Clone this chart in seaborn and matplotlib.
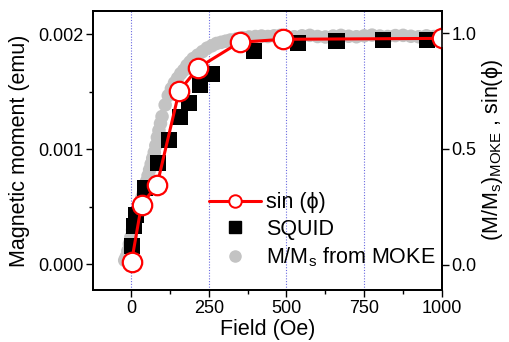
import matplotlib
matplotlib.use("Agg")
import matplotlib.pyplot as plt
from matplotlib.lines import Line2D
from matplotlib.ticker import MultipleLocator
import seaborn as sns
import pandas as pd

# ---- data ----
sin_field = [2, 34, 84, 155, 216, 349, 488, 1000]
sin_phi = [0.014, 0.26, 0.345, 0.75, 0.85, 0.96, 0.973, 0.977]

squid_field = [2, 11, 15, 45, 86, 122, 157, 187, 221, 259, 395, 538, 661, 811, 951]
squid_moment = [0.000157, 0.000333, 0.000426, 0.000658, 0.000875, 0.00108, 0.00128,
                0.00140, 0.00156, 0.00165, 0.00185, 0.00192, 0.00194, 0.00195, 0.00195]

moke_field = [-20, -15, -10, -5, 0, 5, 10, 15, 20, 25, 30, 35, 40, 45, 50, 55, 60, 65,
              70, 75, 80, 85, 90, 95, 100, 110, 120, 130, 140, 150, 160, 170, 180, 190,
              200, 215, 230, 245, 260, 275, 290, 305, 320, 340, 360, 380, 400, 420, 440,
              460, 480, 500, 525, 550, 575, 600, 625, 650, 675, 700, 725, 750, 775, 800,
              825, 850, 875, 900, 925, 950, 975, 1000]
moke_norm = [0.02, 0.035, 0.06, 0.09, 0.12, 0.15, 0.175, 0.20, 0.22, 0.245, 0.27, 0.29,
             0.31, 0.335, 0.36, 0.385, 0.41, 0.435, 0.46, 0.485, 0.515, 0.55, 0.58, 0.61,
             0.64, 0.69, 0.73, 0.76, 0.785, 0.805, 0.825, 0.84, 0.86, 0.875, 0.89, 0.905,
             0.92, 0.935, 0.945, 0.955, 0.96, 0.965, 0.97, 0.975, 0.98, 0.983, 0.985,
             0.987, 0.985, 0.988, 0.99, 0.986, 0.984, 0.988, 0.99, 0.985, 0.983, 0.987,
             0.99, 0.986, 0.984, 0.988, 0.991, 0.987, 0.985, 0.989, 0.99, 0.986, 0.984,
             0.988, 0.985, 0.983]

x_ticks = [0, 250, 500, 750, 1000]
left_ticks = [0.000, 0.001, 0.002]
left_ticklabels = ["0.000", "0.001", "0.002"]
right_ticks = [0.0, 0.5, 1.0]
right_ticklabels = ["0.0", "0.5", "1.0"]

df_sin = pd.DataFrame({"field": sin_field, "val": sin_phi})
df_sq = pd.DataFrame({"field": squid_field, "val": squid_moment})
df_mk = pd.DataFrame({"field": moke_field, "val": moke_norm})

sns.set_style("ticks")
plt.rcParams["font.family"] = ["Liberation Sans", "DejaVu Sans"]
plt.rcParams["mathtext.fontset"] = "custom"
plt.rcParams["mathtext.rm"] = "Liberation Sans"
plt.rcParams["mathtext.it"] = "Liberation Sans:italic"
plt.rcParams["mathtext.sf"] = "Liberation Sans"
for k in ("text.color", "axes.labelcolor", "xtick.color", "ytick.color",
          "axes.edgecolor"):
    plt.rcParams[k] = "black"

fig = plt.figure(figsize=(5.09, 3.42), dpi=100)
pos = [93 / 509, 52 / 342, 349 / 509, 279 / 342]

axg = fig.add_axes(pos)            # grey MOKE (right scale), bottom layer
ax = axg.twinx()                   # squid (left scale)
axr = axg.twinx()                  # sin(phi) (right scale), top layer
axg.set_zorder(0)
ax.set_zorder(1)
axr.set_zorder(2)
ax.patch.set_visible(False)
axr.patch.set_visible(False)

xlim = (-122, 1000)
rlim = (-0.108, 1.095)
llim = (-0.000226, 0.0022)

# grey
sns.scatterplot(data=df_mk, x="field", y="val", ax=axg, color="#c3c3c3", s=95,
                edgecolor="none", legend=False)
# squares
sns.scatterplot(data=df_sq, x="field", y="val", ax=ax, color="black", marker="s",
                s=135, edgecolor="none", legend=False)
# red line
sns.lineplot(data=df_sin, x="field", y="val", ax=axr, color="red", linewidth=2.2,
             marker="o", markersize=14, markerfacecolor="white",
             markeredgecolor="red", markeredgewidth=1.6, legend=False)

for a in (axg, ax, axr):
    a.set_xlim(*xlim)
    a.set_xlabel("")
    a.set_ylabel("")
axg.set_ylim(*rlim)
axr.set_ylim(*rlim)
ax.set_ylim(*llim)

# grid lines
for gx in [0, 250, 500, 750]:
    axg.axvline(gx, color="#6a6ae0", linestyle=(0, (1, 1.5)), linewidth=0.8, zorder=0)

# axes: left (squid)
ax.yaxis.tick_left()
ax.yaxis.set_label_position("left")
ax.set_yticks(left_ticks)
ax.set_yticklabels(left_ticklabels)
ax.yaxis.set_minor_locator(MultipleLocator(0.0005))
ax.set_ylabel("Magnetic moment (emu)", fontsize=15.5, labelpad=6)

# axes: right (grey)
axg.yaxis.tick_right()
axg.yaxis.set_label_position("right")
axg.set_yticks(right_ticks)
axg.set_yticklabels(right_ticklabels)
axg.set_ylabel("(M/M$_\\mathrm{s}$)$_\\mathrm{MOKE}$ , sin(\u03d5)", fontsize=15.5,
               labelpad=2)
axg.set_xticks(x_ticks)
axg.set_xticklabels([str(t) for t in x_ticks])
axg.xaxis.set_minor_locator(MultipleLocator(125))
axg.set_xlabel("Field (Oe)", fontsize=15.5, labelpad=2)

ax.tick_params(axis="x", which="both", bottom=False, labelbottom=False, top=False)
axr.tick_params(axis="both", which="both", left=False, right=False, bottom=False,
                top=False, labelleft=False, labelright=False, labelbottom=False)
axr.set_yticks([])

for a in (axg, ax):
    a.tick_params(axis="both", which="major", labelsize=13, direction="out",
                  length=5, width=1.0, color="black", labelcolor="black", pad=2)
    a.tick_params(axis="both", which="minor", direction="out", length=3, width=1.0,
                  color="black")
axg.tick_params(axis="x", top=False, which="both")

for a in (axg, ax, axr):
    for s in a.spines.values():
        s.set_visible(True)
        s.set_linewidth(1.2)
        s.set_color("black")

handles = [
    Line2D([], [], color="red", linewidth=2.2, marker="o", markersize=9,
           markerfacecolor="white", markeredgecolor="red", markeredgewidth=1.4),
    Line2D([], [], color="black", linestyle="none", marker="s", markersize=8),
    Line2D([], [], color="#c3c3c3", linestyle="none", marker="o", markersize=8),
]
labels = ["sin (\u03d5)", "SQUID", "M/M$_\\mathrm{s}$ from MOKE"]
axr.legend(handles, labels, loc="upper left", bbox_to_anchor=(0.333, 0.35),
           frameon=False, fontsize=15.5, handlelength=2.4, handletextpad=0.25,
           labelspacing=0.25, borderpad=0, borderaxespad=0)

fig.savefig("out.png", dpi=100)
